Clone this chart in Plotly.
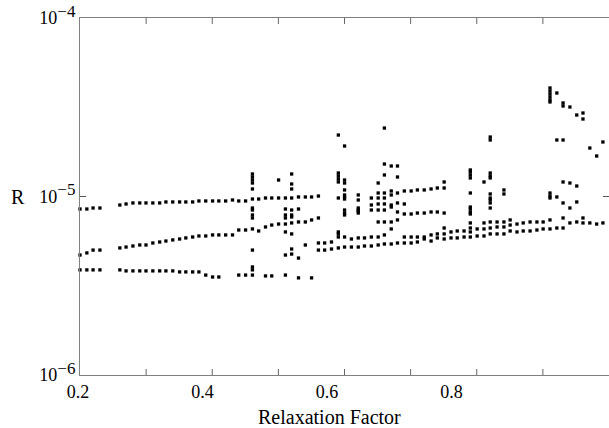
import plotly.graph_objects as go

# ---------------- data (R values in units of 1e-6) ----------------
# upper band
top_x = [0.200, 0.211, 0.221, 0.232,
         0.264, 0.274, 0.285, 0.296, 0.306, 0.317, 0.328, 0.338, 0.349, 0.360, 0.370,
         0.381, 0.391, 0.402, 0.413, 0.423, 0.434, 0.445, 0.455, 0.466, 0.477, 0.487,
         0.498, 0.508, 0.519, 0.530, 0.540, 0.551, 0.562, 0.572, 0.583,
         0.615, 0.625, 0.647, 0.668, 0.679, 0.689, 0.700]
top_r = [8.51, 8.51, 8.62, 8.62,
         8.96, 9.08, 9.20, 9.20, 9.20, 9.20, 9.20, 9.32, 9.32, 9.32, 9.32,
         9.32, 9.44, 9.44, 9.44, 9.44, 9.44, 9.56, 9.44, 9.44, 9.68, 9.68,
         9.81, 9.81, 9.81, 9.81, 9.81, 9.94, 9.94, 9.94, 10.06,
         9.81, 9.94, 10.20, 9.81, 9.81, 9.81, 10.20]

top2_x = [0.679, 0.689, 0.700, 0.710, 0.721, 0.732, 0.742, 0.753, 0.764, 0.774, 0.785]
top2_r = [10.46, 10.46, 10.74, 10.46, 10.74, 10.74, 10.88, 10.88, 11.02, 11.16, 11.16]

# middle band
mid_x = [0.200, 0.211, 0.221, 0.232,
         0.264, 0.274, 0.285, 0.296, 0.306, 0.317, 0.328, 0.338, 0.349, 0.360, 0.370,
         0.381, 0.391, 0.402, 0.413, 0.423, 0.434, 0.445, 0.455, 0.466, 0.477, 0.487,
         0.498, 0.508, 0.519, 0.530, 0.540, 0.551, 0.562, 0.572, 0.583]
mid_r = [4.70, 4.83, 5.01, 5.01,
         5.15, 5.21, 5.28, 5.35, 5.35, 5.49, 5.56, 5.63, 5.71, 5.78, 5.86,
         5.93, 6.01, 6.01, 6.09, 6.09, 6.09, 6.09, 6.49, 6.49, 6.58, 6.41,
         6.75, 6.92, 7.01, 7.01, 7.11, 7.20, 7.20, 7.39, 7.58]

mid2_x = [0.647, 0.668, 0.679, 0.689, 0.700, 0.710, 0.721, 0.732, 0.742, 0.753,
          0.764, 0.774, 0.785, 0.668, 0.679, 0.689, 0.710, 0.721]
mid2_r = [8.40, 8.40, 8.40, 8.40, 8.73, 8.19, 7.98, 7.98, 8.08, 8.08,
          8.19, 8.19, 8.08, 8.96, 9.08, 9.08, 9.20, 9.08]

# lower band
low_x = [0.200, 0.211, 0.221, 0.232, 0.264, 0.274, 0.285, 0.296, 0.306, 0.317,
         0.328, 0.338, 0.349, 0.360, 0.370, 0.381, 0.391, 0.402, 0.413, 0.423,
         0.455, 0.466, 0.477, 0.498, 0.508, 0.551, 0.572]
low_r = [3.88, 3.88, 3.88, 3.88, 3.88, 3.83, 3.83, 3.83, 3.83, 3.83,
         3.83, 3.83, 3.83, 3.78, 3.78, 3.78, 3.78, 3.63, 3.54, 3.54,
         3.63, 3.63, 3.63, 3.59, 3.59, 3.50, 3.50]

# right-hand bands
r1_x = [0.583, 0.593, 0.604, 0.615, 0.625, 0.636, 0.647, 0.657, 0.668, 0.679,
        0.689, 0.700, 0.710, 0.721, 0.732, 0.742, 0.753, 0.764, 0.774, 0.785,
        0.796, 0.806, 0.817, 0.827, 0.838, 0.849, 0.859, 0.870, 0.881, 0.891,
        0.902, 0.912, 0.923, 0.934, 0.944, 0.955, 0.966, 0.976]
r1_r = [5.01, 5.01, 5.08, 5.15, 5.21, 5.21, 5.21, 5.28, 5.28, 5.35,
        5.42, 5.42, 5.49, 5.49, 5.49, 5.56, 5.78, 5.63, 5.86, 5.78,
        5.86, 5.86, 5.93, 5.93, 6.01, 6.01, 6.17, 6.17, 6.17, 6.41,
        6.33, 6.41, 6.41, 6.49, 6.58, 6.58, 6.66, 6.66]

r2_x = [0.583, 0.593, 0.604, 0.625, 0.636, 0.647, 0.657, 0.668, 0.679, 0.689,
        0.721, 0.732, 0.742, 0.753, 0.764, 0.774, 0.785, 0.796, 0.806, 0.817,
        0.827, 0.838, 0.849, 0.859, 0.870, 0.881, 0.891, 0.902, 0.912, 0.923,
        0.934, 0.944, 0.955, 0.987, 0.998, 1.008, 1.019, 1.030, 1.040]
r2_r = [5.49, 5.49, 5.56, 5.93, 5.78, 5.86, 5.86, 5.93, 5.93, 6.09,
        5.93, 5.93, 5.93, 5.93, 6.09, 6.17, 6.17, 6.33, 6.41, 6.41,
        6.33, 6.58, 6.58, 6.66, 6.75, 6.75, 6.92, 7.01, 7.11, 7.20,
        7.20, 7.20, 7.39, 7.11, 7.20, 7.11, 7.11, 7.01, 7.11]

# scattered vertical stacks: one x per column, list of R values per column
stack_x = [0.477, 0.519, 0.530, 0.540, 0.551, 0.562, 0.615, 0.625, 0.647, 0.679,
           0.689, 0.700, 0.710, 0.785, 0.827, 0.849, 0.859, 0.870, 0.881, 0.891,
           0.955, 0.966, 0.976, 0.987, 0.998, 1.008, 1.019, 1.030, 1.040]
stack_r = [
    [13.37, 12.86, 12.37, 11.90, 11.02, 8.62, 8.40, 7.88, 7.58, 5.01, 4.03, 3.88],
    [12.37],
    [8.51, 7.88, 7.58, 6.33, 4.70, 3.63],
    [13.37, 11.75, 11.02, 8.40, 7.88, 7.68, 6.17, 5.08, 4.76],
    [8.51, 4.52],
    [5.35],
    [22.10, 13.54, 13.03, 12.53, 12.06, 6.33, 6.17, 5.93],
    [19.18, 12.37, 11.90, 10.88, 10.20, 9.68, 8.40, 8.08, 7.88],
    [9.56, 8.62, 8.29, 8.08],
    [11.90, 7.20],
    [24.18, 15.20, 13.20, 7.20],
    [14.82, 8.96, 7.20, 6.58],
    [14.82, 12.86, 7.39],
    [12.06, 6.66],
    [14.08, 13.72, 13.20, 12.70, 10.46, 8.73, 8.51, 8.19, 7.98, 7.11, 6.66],
    [12.06, 7.11],
    [21.54, 20.73, 13.54, 13.03, 12.70, 10.33, 9.81, 9.56, 9.20, 8.62, 7.20],
    [7.20],
    [10.88, 10.33, 7.20],
    [7.39],
    [40.54, 39.00, 37.51, 36.08, 34.72, 33.85, 10.46, 10.06, 9.81],
    [38.00, 20.73, 9.94],
    [33.42, 32.14, 20.73, 12.06, 9.20, 7.58],
    [31.72, 11.90, 8.62],
    [28.61, 11.45, 9.32],
    [29.36, 27.17, 7.58],
    [18.69],
    [16.86],
    [20.20],
]

x_tick_vals = [0.2, 0.4, 0.6, 0.8]
x_tick_text = ["0.2", "0.4", "0.6", "0.8"]
y_tick_vals = [1e-6, 1e-5, 1e-4]
y_exponents = ["\u22126", "\u22125", "\u22124"]
n_tick_marks = 8   # evenly spaced frame tick marks along x (top and bottom)

# ---------------- figure ----------------
FONT = "Liberation Serif, Times New Roman, serif"
y_tick_text = ["10<sup><span style='font-size:17px'>%s</span></sup>" % e for e in y_exponents]

groups = [(top_x, top_r), (top2_x, top2_r), (mid_x, mid_r), (mid2_x, mid2_r),
          (low_x, low_r), (r1_x, r1_r), (r2_x, r2_r)]
sx, sr = [], []
for xv, rv in zip(stack_x, stack_r):
    sx += [xv] * len(rv)
    sr += rv
groups.append((sx, sr))

fig = go.Figure()
for xs, rs in groups:
    assert len(xs) == len(rs)
    fig.add_trace(go.Scatter(
        x=xs, y=[r * 1e-6 for r in rs], mode="markers",
        marker=dict(symbol="square", size=3.3, color="black", line=dict(width=0)),
        cliponaxis=False, showlegend=False, hoverinfo="skip"))

# frame tick marks along x (bottom and top), in axis-domain units
tick_len = 6.0 / 357.0
shapes = []
for j in range(1, n_tick_marks):
    f = j / n_tick_marks
    shapes.append(dict(type="line", xref="x domain", yref="y domain",
                       x0=f, x1=f, y0=0, y1=tick_len,
                       line=dict(color="#666666", width=1)))
    shapes.append(dict(type="line", xref="x domain", yref="y domain",
                       x0=f, x1=f, y0=1 - tick_len, y1=1,
                       line=dict(color="#666666", width=1)))

fig.update_layout(
    width=609, height=428, autosize=False,
    margin=dict(l=80, r=0, t=18, b=53),
    paper_bgcolor="white", plot_bgcolor="white",
    font=dict(family=FONT, size=18, color="black"),
    xaxis=dict(range=[0.2, 1.0498], tickvals=x_tick_vals, ticktext=x_tick_text,
               ticks="", showline=True, linecolor="#808080", linewidth=1, mirror=True,
               showgrid=False, zeroline=False, ticklabelshift=-2,
               tickfont=dict(family=FONT, size=18, color="black")),
    yaxis=dict(type="log", range=[-6, -4], tickvals=y_tick_vals, ticktext=y_tick_text,
               ticks="inside", ticklen=6, tickwidth=1, tickcolor="#555555",
               showline=True, linecolor="#808080", linewidth=1, mirror="ticks",
               showgrid=False, zeroline=False,
               tickfont=dict(family=FONT, size=18, color="black")),
    shapes=shapes,
    annotations=[
        dict(text="R", xref="paper", yref="y", x=-0.118, y=-5, showarrow=False,
             xanchor="center", yanchor="middle",
             font=dict(family=FONT, size=20, color="black")),
        dict(text="Relaxation Factor", xref="paper", yref="paper", x=0.4707, y=-0.1190,
             showarrow=False, xanchor="center", yanchor="middle",
             font=dict(family=FONT, size=20, color="black")),
    ],
)

fig.write_html("out.html",
               config={"displayModeBar": False},
               post_script="document.body.style.margin='0px';"
                           "document.body.style.padding='0px';")
